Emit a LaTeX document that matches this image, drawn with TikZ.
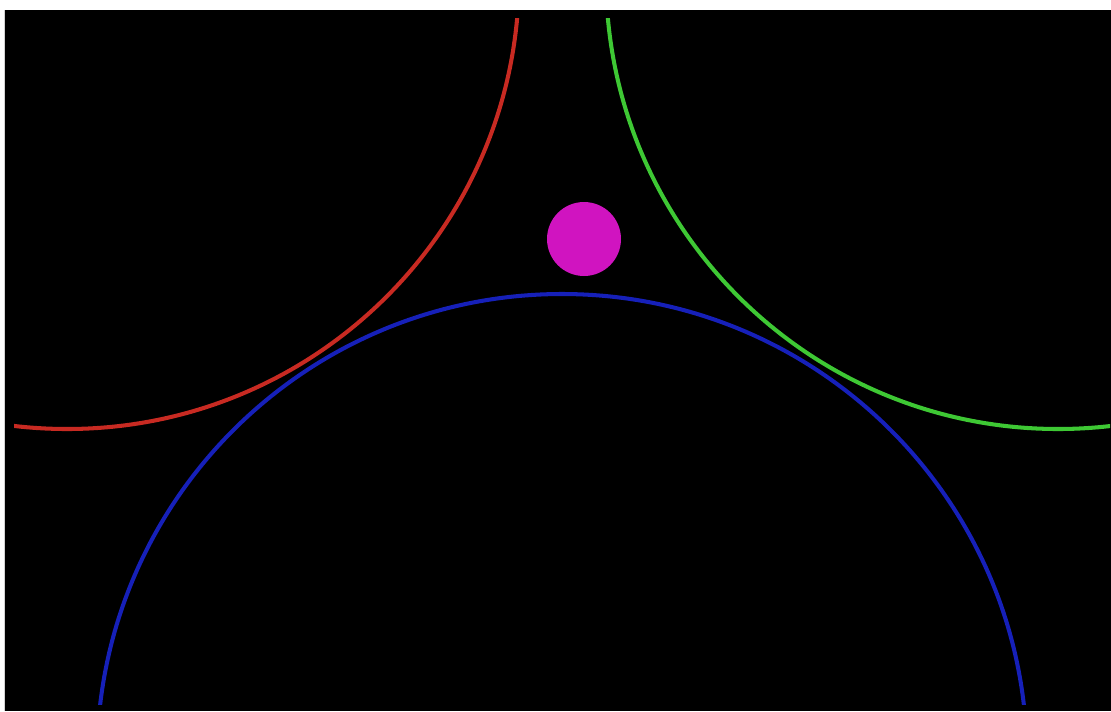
\documentclass[tikz,border=0pt]{standalone}
\definecolor{arcred}{RGB}{200,42,34}
\definecolor{arcgreen}{RGB}{62,200,52}
\definecolor{arcblue}{RGB}{22,32,185}
\definecolor{ballpink}{RGB}{208,20,192}

\begin{document}
\begin{tikzpicture}[x=0.02cm,y=-0.02cm,line width=2.3pt,
  ball/.style={circle,fill=ballpink,draw=none,inner sep=0pt,minimum size=1.48cm}]
  \useasboundingbox (0,0) rectangle (1111,711);
  \fill[white] (0,0) rectangle (1111,711);
  \fill[black] (5,10) rectangle (1111,711);
  \draw[gray!35,line width=0.6pt] (4.6,10)--(4.6,711);
  \begin{scope}
    \clip (14,18) rectangle (1110,704);
    \draw[arcred] (67,-23) circle[radius=452];
    \draw[arcgreen] (1058,-23) circle[radius=452];
    \draw[arcblue] (562,759) circle[radius=465];
  \end{scope}
  \node[ball] (ball) at (584,239) {};
\end{tikzpicture}
\end{document}
